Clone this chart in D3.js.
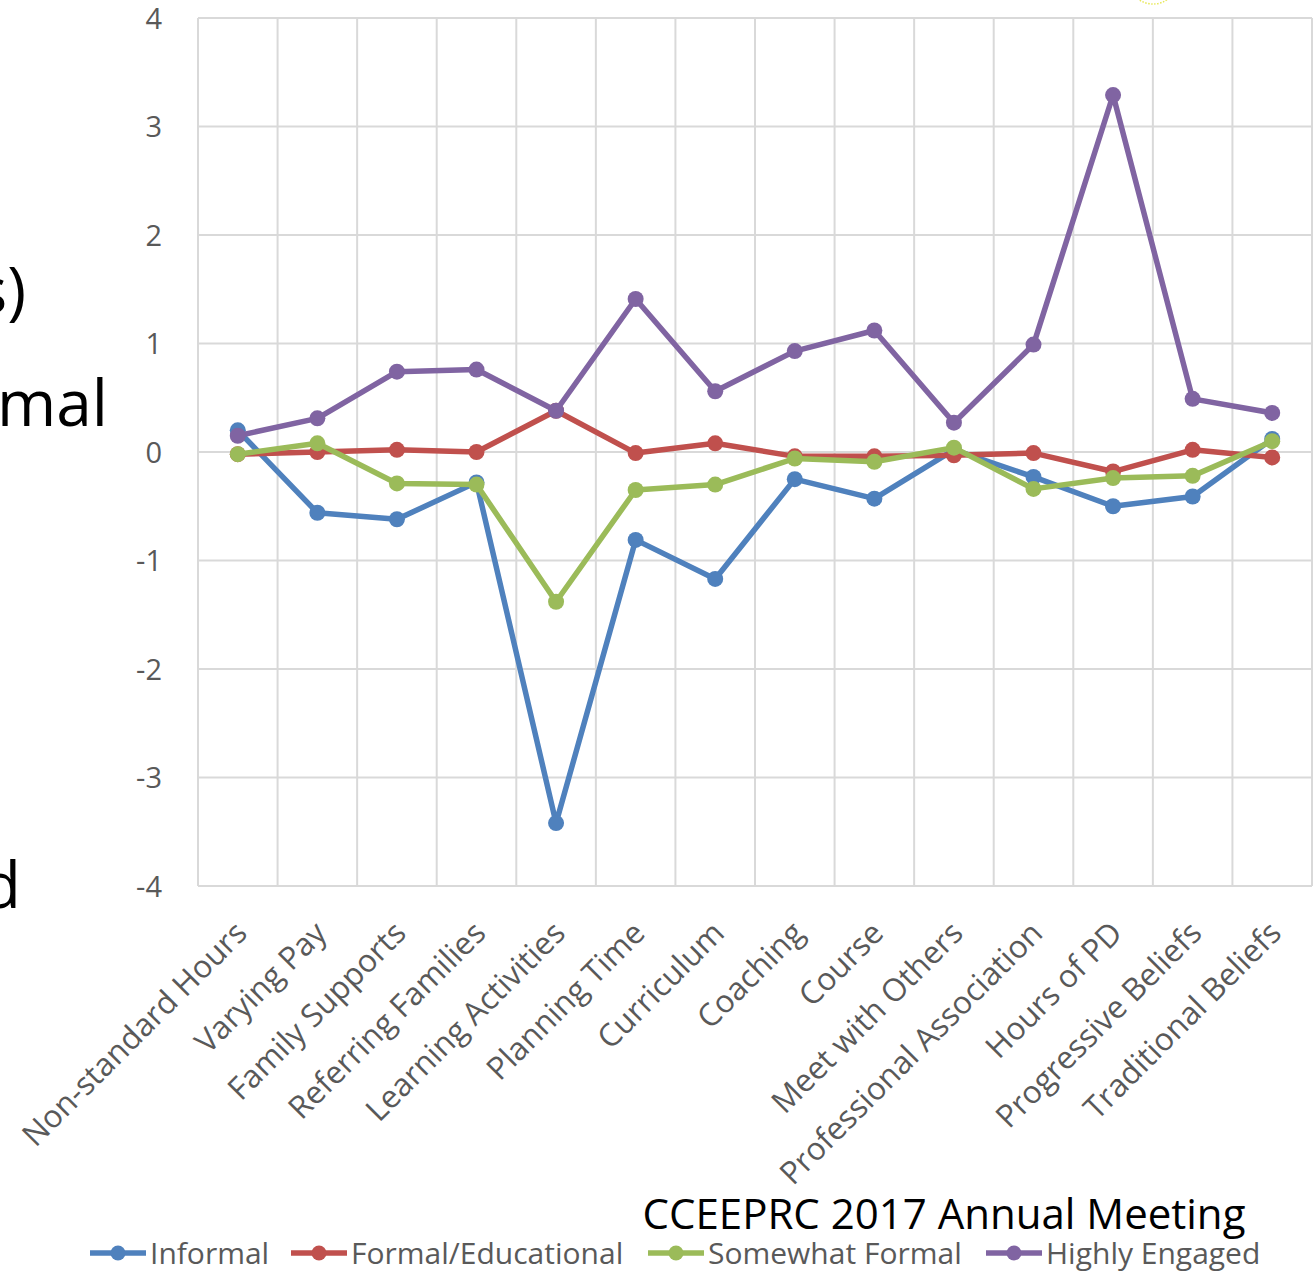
<!DOCTYPE html>
<html>
<head>
<meta charset="utf-8">
<script src="https://cdn.jsdelivr.net/npm/d3@7"></script>
<style>
  html, body { margin: 0; padding: 0; background: #fff; }
  svg { display: block; font-family: "Open Sans", sans-serif; }
</style>
</head>
<body>
<svg id="chart" width="1316" height="1271"></svg>
<script>
// Categories on the horizontal axis
const categories = [
  "Non-standard Hours", "Varying Pay", "Family Supports", "Referring Families",
  "Learning Activities", "Planning Time", "Curriculum", "Coaching", "Course",
  "Meet with Others", "Professional Association", "Hours of PD",
  "Progressive Beliefs", "Traditional Beliefs"
];

// Profile means per category
const informal        = [0.20, -0.56, -0.62, -0.28, -3.42, -0.81, -1.17, -0.25, -0.43, 0.02, -0.23, -0.50, -0.41, 0.12];
const formalEducation = [-0.02, 0.00, 0.02, 0.00, 0.38, -0.01, 0.08, -0.04, -0.04, -0.03, -0.01, -0.18, 0.02, -0.05];
const somewhatFormal  = [-0.02, 0.08, -0.29, -0.30, -1.38, -0.35, -0.30, -0.06, -0.09, 0.04, -0.34, -0.24, -0.22, 0.10];
const highlyEngaged   = [0.15, 0.31, 0.74, 0.76, 0.38, 1.41, 0.56, 0.93, 1.12, 0.27, 0.99, 3.29, 0.49, 0.36];

const seriesNames  = ["Informal", "Formal/Educational", "Somewhat Formal", "Highly Engaged"];
const seriesColors = ["#4f81bd", "#c0504d", "#9bbb59", "#8064a2"];
const yTicks = [-4, -3, -2, -1, 0, 1, 2, 3, 4];

const series = [informal, formalEducation, somewhatFormal, highlyEngaged].map((values, i) => ({
  name: seriesNames[i], color: seriesColors[i], values
}));

const svg = d3.select("#chart");
const plot = { left: 198, right: 1312, top: 18, bottom: 886 };

const x = d3.scaleBand().domain(categories).range([plot.left, plot.right]).padding(0);
const y = d3.scaleLinear().domain([-4, 4]).range([plot.bottom, plot.top]);
const cx = c => x(c) + x.bandwidth() / 2;

// Slide text partly outside the visible area on the left
const slideText = svg.append("g").attr("fill", "#000").attr("font-size", 64).attr("text-anchor", "end");
slideText.append("text").attr("x", 26).attr("y", 313).text("s)");
slideText.append("text").attr("x", 108).attr("y", 426).text("mal");
slideText.append("text").attr("x", 21).attr("y", 908).text("ed");

// Small decorative dotted arc at the top edge
svg.append("ellipse")
  .attr("cx", 1153).attr("cy", -8).attr("rx", 18).attr("ry", 12)
  .attr("fill", "none").attr("stroke", "#e8e85a").attr("stroke-width", 1.5)
  .attr("stroke-dasharray", "1.5,1.5");

// Gridlines
const grid = svg.append("g").attr("stroke", "#d9d9d9").attr("stroke-width", 2);
grid.selectAll("line.h").data(yTicks).join("line")
  .attr("class", "h")
  .attr("x1", plot.left).attr("x2", plot.right)
  .attr("y1", d => y(d)).attr("y2", d => y(d));
const bounds = categories.map(c => x(c)).concat([plot.right]);
grid.selectAll("line.v").data(bounds).join("line")
  .attr("class", "v")
  .attr("x1", d => d).attr("x2", d => d)
  .attr("y1", plot.top).attr("y2", plot.bottom);

// Y axis labels (plain hyphen for negatives)
const yAxis = svg.append("g")
  .attr("transform", `translate(${plot.left - 36},0)`)
  .call(d3.axisLeft(y).tickValues(yTicks).tickSize(0).tickPadding(0).tickFormat(d => String(d)));
yAxis.select(".domain").remove();
yAxis.selectAll("text")
  .attr("fill", "#595959").attr("font-size", 29).attr("font-family", "Open Sans, sans-serif")
  .attr("dy", "0.35em");

// X axis labels, rotated
const xAxis = svg.append("g")
  .attr("transform", `translate(0,${plot.bottom})`)
  .call(d3.axisBottom(x).tickSize(0).tickPadding(0));
xAxis.select(".domain").remove();
xAxis.selectAll("text")
  .attr("fill", "#595959").attr("font-size", 31.5).attr("font-family", "Open Sans, sans-serif")
  .attr("text-anchor", "end")
  .attr("dy", 0).attr("y", 0)
  .attr("transform", "translate(11,49) rotate(-45)");

// Lines and markers
const line = d3.line().x((d, i) => cx(categories[i])).y(d => y(d));
const g = svg.append("g");
series.forEach(s => {
  g.append("path")
    .attr("d", line(s.values))
    .attr("fill", "none").attr("stroke", s.color)
    .attr("stroke-width", 5.5).attr("stroke-linejoin", "round").attr("stroke-linecap", "round");
  g.selectAll(null).data(s.values).join("circle")
    .attr("cx", (d, i) => cx(categories[i])).attr("cy", d => y(d))
    .attr("r", 8).attr("fill", s.color);
});

// Title of the meeting
svg.append("text")
  .attr("x", 944).attr("y", 1229)
  .attr("text-anchor", "middle").attr("font-size", 42).attr("fill", "#000")
  .text("CCEEPRC 2017 Annual Meeting");

// Legend
const legendX = [90, 291, 648, 986];
const legendY = 1253;
const legend = svg.append("g");
series.forEach((s, i) => {
  const item = legend.append("g").attr("transform", `translate(${legendX[i]},${legendY})`);
  item.append("line").attr("x1", 0).attr("x2", 56).attr("y1", 0).attr("y2", 0)
    .attr("stroke", s.color).attr("stroke-width", 5.5);
  item.append("circle").attr("cx", 28).attr("cy", 0).attr("r", 7.5).attr("fill", s.color);
  item.append("text").attr("x", 60).attr("y", 0).attr("dy", "0.35em")
    .attr("font-size", 30).attr("fill", "#595959").text(s.name);
});
</script>
</body>
</html>
